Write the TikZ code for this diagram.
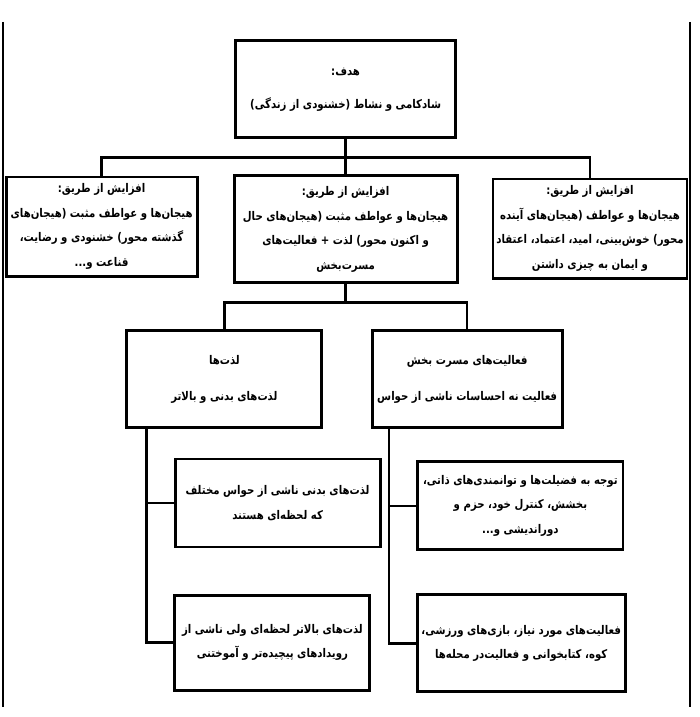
\documentclass[tikz,border=0pt]{standalone}
\usepackage{fontspec}
\newfontfamily\farsifont[Script=Arabic, FakeStretch=0.85]{DejaVu Sans}
\TeXXeTstate=1
\newcommand{\rtline}[1]{\beginR #1\endR}
\usetikzlibrary{positioning}

\begin{document}
\begin{tikzpicture}[
        x=1cm,
        y=1cm,
        frame/.style={line width=0.9pt},
        box/.style={
            draw,
            line width=2pt,
            align=center,
            inner sep=2pt,
            font=\farsifont\bfseries\fontsize{8.5}{17.5}\selectfont
        },
        link/.style={line width=1.8pt}
    ]
        % Canvas and the two thin rules at the sides.
        \useasboundingbox (0,0) rectangle (17.5,17.925);
        \draw[frame] (0.075,17.375) -- (0.075,0.25);
        \draw[frame] (17.25,17.375) -- (17.25,0.25);

        \node[box, minimum width=5.5cm, minimum height=2.425cm] (goal) at (8.64,15.69) {\rtline{هدف:}\\[6pt]\rtline{شادکامی و نشاط (خشنودی از زندگی)}};

        \node[box, minimum width=4.775cm, minimum height=2.475cm] (past) at (2.54,12.26) {\rtline{افزایش از طریق:}\\\rtline{هیجان‌ها و عواطف مثبت (هیجان‌های}\\\rtline{گذشته محور) خشنودی و رضایت،}\\\rtline{قناعت و...}};
        \node[box, minimum width=5.575cm, minimum height=2.675cm] (present) at (8.64,12.19) {\rtline{افزایش از طریق:}\\\rtline{هیجان‌ها و عواطف مثبت (هیجان‌های حال}\\\rtline{و اکنون محور) لذت + فعالیت‌های}\\\rtline{مسرت‌بخش}};
        \node[box, minimum width=4.85cm, minimum height=2.475cm] (future) at (14.75,12.21) {\rtline{افزایش از طریق:}\\\rtline{هیجان‌ها و عواطف (هیجان‌های آینده}\\\rtline{محور) خوش‌بینی، امید، اعتماد، اعتقاد}\\\rtline{و ایمان به چیزی داشتن}};

        \node[box, minimum width=4.875cm, minimum height=2.425cm] (pleasure) at (5.61,8.44) {\rtline{لذت‌ها}\\[8pt]\rtline{لذت‌های بدنی و بالاتر}};
        \node[box, minimum width=4.75cm, minimum height=2.425cm] (activity) at (11.68,8.44) {\rtline{فعالیت‌های مسرت بخش}\\[8pt]\rtline{فعالیت نه احساسات ناشی از حواس}};

        \node[box, minimum width=5.125cm, minimum height=2.2cm] (sensual) at (6.94,5.35) {\rtline{لذت‌های بدنی  ناشی از حواس مختلف}\\\rtline{که لحظه‌ای هستند}};
        \node[box, minimum width=4.875cm, minimum height=2.375cm] (higher) at (6.81,1.86) {\rtline{لذت‌های بالاتر لحظه‌ای ولی ناشی از}\\\rtline{رویدادهای پیچیده‌تر و آموختنی}};
        \node[box, minimum width=5.125cm, minimum height=2.2cm] (virtue) at (13.01,5.28) {\rtline{توجه به فضیلت‌ها و توانمندی‌های ذاتی،}\\\rtline{بخشش، کنترل خود، حزم و}\\\rtline{دوراندیشی و...}};
        \node[box, minimum width=5.2cm, minimum height=2.425cm] (pastime) at (13.03,1.84) {\rtline{فعالیت‌های مورد نیاز، بازی‌های ورزشی،}\\\rtline{کوه، کتابخوانی و فعالیت‌در محله‌ها}};

        \coordinate (split) at ([yshift=-0.45cm]goal.south);
        \draw[link] (goal.south) -- (present.north);
        \draw[link] (past.north) |- (split) -| (future.north);

        \coordinate (fork) at ([yshift=-0.45cm]present.south);
        \draw[link] (present.south) -- (fork);
        \draw[link] (pleasure.north) |- (fork) -| (activity.north);

        \coordinate (ltrunk) at ([xshift=0.525cm]pleasure.south west);
        \draw[link] (ltrunk) |- (sensual.west);
        \draw[link] (ltrunk) |- (higher.west);
        \coordinate (rtrunk) at ([xshift=0.45cm]activity.south west);
        \draw[link] (rtrunk) |- (virtue.west);
        \draw[link] (rtrunk) |- (pastime.west);

    \end{tikzpicture}
\end{document}
